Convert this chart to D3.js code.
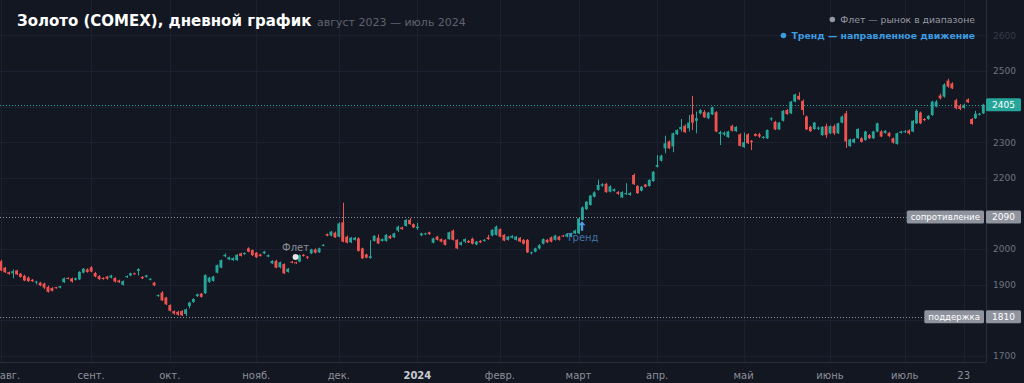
<!DOCTYPE html>
<html>
<head>
<meta charset="utf-8">
<script src="https://cdn.jsdelivr.net/npm/d3@7"></script>
<style>
  html, body { margin: 0; padding: 0; background: #131722; }
  svg { display: block; font-family: "DejaVu Sans", sans-serif; }
</style>
</head>
<body>
<div id="chart"></div>
<script>
// trading calendar (COMEX sessions) from 1 Aug 2023 to 30 Jul 2024
const firstDay = "2023-08-01";
const lastDay = "2024-07-30";
const holidays = ["2023-09-04", "2023-11-23", "2023-12-25", "2024-01-01", "2024-01-15",
    "2024-02-19", "2024-03-29", "2024-05-27", "2024-06-19", "2024-07-04"];

// daily OHLC
const opens = [1966,1948,1935,1932,1940,1931,1925,1920,1914,1906,1906,1903,1894,1891,1893,1892,1907,1919,1918,1914,
    1915,1934,1943,1949,1933,1924,1919,1923,1920,1919,1912,1900,1921,1926,1932,1939,1922,1922,1914,1906,
    1869,1878,1864,1843,1826,1824,1826,1818,1840,1852,1868,1875,1876,1908,1911,1934,1948,1980,1971,1969,
    1969,1988,1986,2002,1997,1990,1985,1988,1979,1960,1967,1949,1958,1936,1965,1963,1965,1984,1979,1988,
    1999,1991,2010,2042,2038,2046,2035,2075,2035,2019,2026,2030,2002,1985,1975,2023,2032,2023,2023,2037,
    2033,2052,2061,2065,2082,2070,2059,2039,2042,2047,2018,2035,2028,2026,2028,2052,2026,2012,2021,2023,
    2029,2013,2023,2023,2033,2038,2040,2056,2040,2026,2032,2026,2032,2026,2026,1989,1993,2002,2015,2026,
    2033,2026,2035,2038,2035,2035,2044,2044,2082,2112,2124,2147,2166,2178,2183,2161,2163,2160,2145,2154,
    2152,2208,2177,2164,2181,2177,2191,2231,2248,2283,2302,2288,2322,2336,2346,2339,2378,2360,2381,2385,
    2367,2378,2384,2323,2322,2314,2346,2331,2322,2286,2322,2304,2323,2322,2312,2311,2364,2357,2336,2360,
    2390,2381,2414,2430,2416,2372,2343,2337,2338,2320,2345,2325,2345,2325,2355,2381,2289,2299,2311,2311,
    2306,2320,2311,2330,2330,2326,2326,2311,2295,2326,2328,2333,2330,2353,2383,2365,2365,2376,2400,2431,
    2428,2473,2465,2418,2403,2396,2420,2365,2367,2378,2381];
const highs = [1970,1950,1937,1943,1942,1933,1928,1923,1916,1911,1908,1906,1898,1893,1894,1897,1920,1921,1920,1920,
    1938,1947,1946,1952,1936,1927,1921,1925,1928,1921,1914,1912,1926,1934,1934,1946,1924,1928,1918,1908,
    1873,1882,1866,1845,1828,1827,1829,1833,1852,1862,1875,1877,1929,1922,1925,1957,1971,1988,1979,1977,
    1986,1990,1991,2005,1999,1992,1987,1995,1985,1969,1970,1965,1960,1947,1967,1965,1985,1986,1980,2001,
    2002,2004,2014,2044,2051,2049,2075,2130,2038,2034,2034,2033,2004,1987,2025,2039,2041,2030,2042,2040,
    2046,2066,2063,2084,2087,2072,2074,2046,2046,2049,2032,2037,2030,2028,2049,2055,2028,2021,2030,2025,
    2032,2023,2025,2028,2040,2056,2066,2058,2042,2037,2039,2037,2034,2028,2028,1993,2004,2014,2030,2028,
    2035,2040,2037,2040,2044,2046,2054,2090,2120,2135,2152,2162,2195,2185,2186,2179,2170,2163,2162,2185,
    2160,2212,2180,2177,2183,2196,2219,2264,2265,2318,2305,2327,2336,2365,2350,2376,2430,2386,2393,2390,
    2385,2400,2387,2332,2330,2332,2349,2345,2325,2327,2325,2306,2325,2326,2317,2336,2370,2360,2357,2390,
    2393,2416,2436,2440,2420,2375,2346,2357,2344,2345,2352,2347,2350,2355,2375,2388,2310,2311,2339,2314,
    2332,2323,2332,2355,2334,2334,2329,2313,2327,2332,2334,2336,2362,2392,2386,2368,2376,2416,2418,2436,
    2465,2478,2468,2422,2407,2408,2423,2368,2388,2382,2408];
const lows = [1938,1933,1928,1918,1927,1920,1910,1908,1908,1901,1896,1888,1878,1881,1889,1890,1905,1915,1906,1912,
    1913,1932,1934,1935,1921,1913,1914,1914,1918,1906,1905,1898,1919,1924,1928,1926,1916,1920,1912,1896,
    1866,1854,1843,1825,1816,1813,1812,1812,1834,1849,1866,1864,1874,1905,1909,1932,1946,1977,1969,1967,
    1967,1979,1984,1991,1981,1975,1979,1986,1977,1958,1946,1946,1930,1934,1960,1958,1963,1979,1972,1986,
    1988,1989,2008,2036,2036,2031,2033,2019,2016,2017,2024,1993,1972,1974,1973,2021,2014,2021,2021,2028,
    2031,2048,2054,2063,2068,2059,2054,2036,2040,2040,2016,2024,2019,2010,2026,2024,2000,2010,2017,2017,
    2013,2011,2017,2021,2026,2036,2038,2033,2022,2024,2030,2024,2019,2013,1989,1985,1991,1999,2013,2017,
    2019,2024,2024,2034,2033,2033,2042,2042,2080,2110,2122,2145,2164,2175,2158,2159,2161,2152,2143,2152,
    2150,2180,2155,2162,2173,2175,2189,2229,2246,2269,2281,2272,2320,2330,2326,2330,2334,2325,2378,2368,
    2365,2376,2328,2292,2318,2312,2330,2329,2288,2284,2295,2278,2316,2312,2310,2309,2360,2334,2334,2358,
    2377,2379,2412,2418,2376,2334,2329,2335,2334,2318,2312,2323,2320,2323,2353,2284,2287,2297,2309,2299,
    2304,2309,2309,2328,2314,2324,2314,2296,2293,2324,2326,2321,2328,2351,2351,2359,2363,2374,2398,2420,
    2425,2453,2449,2392,2390,2394,2410,2349,2365,2375,2379];
const closes = [1940,1935,1930,1938,1929,1922,1912,1910,1910,1909,1898,1892,1880,1883,1891,1896,1918,1917,1909,1918,
    1936,1945,1936,1937,1923,1916,1916,1917,1926,1909,1907,1910,1924,1932,1930,1944,1918,1926,1917,1898,
    1871,1856,1845,1827,1819,1816,1814,1831,1850,1860,1873,1866,1927,1920,1923,1955,1969,1984,1977,1975,
    1984,1981,1989,1993,1983,1977,1981,1993,1983,1967,1948,1963,1932,1945,1962,1960,1983,1981,1977,1999,
    1990,2002,2012,2038,2049,2033,2072,2021,2018,2032,2032,1995,1974,1976,1980,2037,2016,2028,2040,2030,
    2044,2063,2056,2082,2070,2061,2063,2044,2044,2042,2030,2026,2021,2012,2047,2026,2002,2019,2028,2019,
    2015,2021,2019,2026,2028,2054,2063,2035,2024,2035,2037,2035,2021,2015,1991,1991,2002,2011,2028,2019,
    2021,2038,2026,2036,2042,2044,2052,2086,2117,2133,2150,2159,2180,2182,2160,2176,2168,2155,2160,2157,
    2157,2182,2157,2175,2175,2194,2217,2236,2262,2297,2283,2325,2334,2343,2328,2355,2355,2367,2390,2370,
    2383,2398,2330,2328,2327,2330,2332,2343,2290,2300,2297,2300,2318,2316,2315,2334,2367,2336,2355,2388,
    2379,2414,2434,2420,2390,2336,2331,2355,2341,2343,2320,2345,2325,2353,2372,2302,2308,2309,2337,2301,
    2330,2311,2330,2353,2316,2332,2317,2299,2325,2330,2331,2325,2360,2388,2353,2362,2374,2414,2414,2423,
    2462,2456,2451,2395,2393,2405,2412,2351,2380,2380,2405];

// price axis and the three levels
const priceTicks = [1700, 1800, 1900, 2000, 2100, 2200, 2300, 2400, 2500, 2600];
const lastPrice = 2405;
const resistance = 2090;
const support = 1810;

// time axis labels, keyed by session date
const timeLabels = [
    ["2023-08-01", "авг."], ["2023-09-01", "сент."], ["2023-10-02", "окт."], ["2023-11-01", "нояб."],
    ["2023-12-01", "дек."], ["2024-01-02", "2024"], ["2024-02-01", "февр."], ["2024-03-01", "март"],
    ["2024-04-01", "апр."], ["2024-05-01", "май"], ["2024-06-03", "июнь"], ["2024-07-01", "июль"],
    ["2024-07-23", "23"]
];

// annotations
const flatMark = { date: "2023-11-15", price: 1978, text: "Флет" };
const trendMark = { date: "2024-03-01", price: 2064, text: "Тренд" };

const W = 1024, H = 383;
const plotRight = 986, plotBottom = 362;
const GREEN = "#26a69a", RED = "#ef5350";
const LEVEL = "#8f939e";

// build the session list
const fmt = d3.timeFormat("%Y-%m-%d");
const sessions = [];
for (let d = new Date(firstDay + "T12:00:00"); fmt(d) <= lastDay; d.setDate(d.getDate() + 1)) {
    const wd = d.getDay();
    const key = fmt(d);
    if (wd === 0 || wd === 6 || holidays.includes(key)) continue;
    sessions.push(key);
}
const bars = sessions.map((date, i) => ({
    date: date, o: opens[i], h: highs[i], l: lows[i], c: closes[i]
}));

const step = 3.93;
const x = d3.scaleBand()
    .domain(sessions)
    .range([0.8 - step / 2, 0.8 - step / 2 + step * sessions.length])
    .paddingInner(0.27)
    .paddingOuter(0.135);
const cx = d => x(d) + x.bandwidth() / 2;

const y = d3.scaleLinear()
    .domain([1700, 2600])
    .range([356.0, 35.3]);

const svg = d3.select("#chart").append("svg")
    .attr("width", W)
    .attr("height", H);

svg.append("rect").attr("width", W).attr("height", H).attr("fill", "#131722");

// grid
const grid = svg.append("g");
grid.selectAll(".vg")
    .data(timeLabels)
    .enter().append("line")
    .attr("x1", d => Math.round(cx(d[0])) + 0.5)
    .attr("x2", d => Math.round(cx(d[0])) + 0.5)
    .attr("y1", 0).attr("y2", plotBottom)
    .attr("stroke", "#1c2030");
grid.selectAll(".hg")
    .data(priceTicks)
    .enter().append("line")
    .attr("x1", 0).attr("x2", plotRight)
    .attr("y1", d => Math.round(y(d)) + 0.5)
    .attr("y2", d => Math.round(y(d)) + 0.5)
    .attr("stroke", "#1c2030");

// plot borders
svg.append("line")
    .attr("x1", plotRight + 0.5).attr("x2", plotRight + 0.5)
    .attr("y1", 0).attr("y2", plotBottom)
    .attr("stroke", "#2a2e39");
svg.append("line")
    .attr("x1", 0).attr("x2", plotRight)
    .attr("y1", plotBottom + 0.5).attr("y2", plotBottom + 0.5)
    .attr("stroke", "#2a2e39");

// last price line
svg.append("line")
    .attr("x1", 0).attr("x2", plotRight)
    .attr("y1", Math.round(y(lastPrice)) + 0.5).attr("y2", Math.round(y(lastPrice)) + 0.5)
    .attr("stroke", GREEN).attr("stroke-dasharray", "1,2");

// candles
const candles = svg.append("g");
candles.selectAll(".wick")
    .data(bars)
    .enter().append("line")
    .attr("x1", d => Math.round(cx(d.date)) + 0.5)
    .attr("x2", d => Math.round(cx(d.date)) + 0.5)
    .attr("y1", d => y(d.h))
    .attr("y2", d => y(d.l))
    .attr("stroke", d => d.c >= d.o ? GREEN : RED)
    .attr("stroke-width", 1);
candles.selectAll(".body")
    .data(bars)
    .enter().append("rect")
    .attr("x", d => x(d.date))
    .attr("width", x.bandwidth())
    .attr("y", d => y(Math.max(d.o, d.c)))
    .attr("height", d => Math.max(1, Math.abs(y(d.o) - y(d.c))))
    .attr("fill", d => d.c >= d.o ? GREEN : RED);

// annotations
svg.append("text")
    .attr("x", cx(flatMark.date)).attr("y", y(flatMark.price) - 6)
    .attr("text-anchor", "middle")
    .attr("fill", "#a4a7b0").attr("fill-opacity", 0.85)
    .style("font-size", "10px")
    .text(flatMark.text);
svg.append("circle")
    .attr("cx", cx(flatMark.date)).attr("cy", y(flatMark.price))
    .attr("r", 3)
    .attr("fill", "#e6e6e6");

svg.append("text")
    .attr("x", cx(trendMark.date) + 4).attr("y", y(trendMark.price) + 14.5)
    .attr("text-anchor", "middle")
    .attr("fill", "#4a86c0").attr("fill-opacity", 0.85)
    .style("font-size", "10px")
    .text(trendMark.text);
svg.append("path")
    .attr("transform", `translate(${cx(trendMark.date) + 3.5},${y(trendMark.price)})`)
    .attr("d", "M0,-5 L3.5,-1 L1.2,-1 L1.2,4.5 L-1.2,4.5 L-1.2,-1 L-3.5,-1 Z")
    .attr("fill", "#4a9fe0");

// right price axis (labels under the price tags are hidden by the tags)
const covered = [2400, 2100, 1800];
const yAxis = d3.axisRight(y)
    .tickValues(priceTicks.filter(v => !covered.includes(v)))
    .tickFormat(d3.format("d"))
    .tickSize(0).tickPadding(7);
const yg = svg.append("g")
    .attr("transform", `translate(${plotRight},0)`)
    .call(yAxis);
yg.select(".domain").remove();
yg.selectAll("text")
    .attr("fill", "#6f7380")
    .style("font-size", "9px")
    .style("font-family", "DejaVu Sans, sans-serif");
yg.selectAll(".tick").filter(d => d === 2600).select("text").attr("fill", "#353a47");

// price tags
function tag(value, fill, textFill) {
    const yy = y(value);
    svg.append("rect")
        .attr("x", plotRight).attr("y", yy - 6.5)
        .attr("width", 35).attr("height", 13).attr("rx", 1.5)
        .attr("fill", fill);
    svg.append("text")
        .attr("x", plotRight + 17.5).attr("y", yy + 3.2)
        .attr("text-anchor", "middle")
        .attr("fill", textFill)
        .style("font-size", "9px")
        .text(value);
}
// level line running up to a label box at the right edge
function level(value, label) {
    const yy = y(value);
    const right = plotRight - 2;
    const t = svg.append("text")
        .attr("x", right - 4).attr("y", yy + 3.2)
        .attr("text-anchor", "end")
        .attr("fill", "#ffffff")
        .style("font-size", "8.6px")
        .text(label);
    const w = t.node().getComputedTextLength();
    const left = right - w - 8;
    svg.insert("rect", () => t.node())
        .attr("x", left).attr("y", yy - 6.5)
        .attr("width", w + 8).attr("height", 13).attr("rx", 1.5)
        .attr("fill", LEVEL);
    svg.insert("line", () => t.node())
        .attr("x1", 0).attr("x2", left)
        .attr("y1", Math.round(yy) + 0.5).attr("y2", Math.round(yy) + 0.5)
        .attr("stroke", LEVEL).attr("stroke-dasharray", "1,2");
    tag(value, LEVEL, "#ffffff");
}
tag(lastPrice, GREEN, "#ffffff");
level(resistance, "сопротивление");
level(support, "поддержка");

// time axis
const xAxis = d3.axisBottom(x)
    .tickValues(timeLabels.map(d => d[0]))
    .tickFormat(d => timeLabels.find(t => t[0] === d)[1])
    .tickSize(0)
    .tickPadding(10);
const xg = svg.append("g")
    .attr("transform", `translate(0,${plotBottom})`)
    .call(xAxis);
xg.select(".domain").remove();
xg.selectAll("text")
    .attr("fill", "#8c8f99")
    .style("font-size", "10px")
    .style("font-family", "DejaVu Sans, sans-serif");
xg.selectAll(".tick").filter(d => d === "2024-01-02").select("text")
    .attr("fill", "#c9cbd2").style("font-weight", "bold");
xg.selectAll(".tick").filter(d => d === "2023-08-01").select("text")
    .attr("text-anchor", "start").attr("x", -1);

// title
svg.append("text")
    .attr("x", 17).attr("y", 26)
    .attr("fill", "#ffffff")
    .style("font-size", "15px")
    .style("font-weight", "bold")
    .text("Золото (COMEX), дневной график");
svg.append("text")
    .attr("x", 317).attr("y", 26)
    .attr("fill", "#5f6370")
    .style("font-size", "11px")
    .text("август 2023 — июль 2024");

// legend
const legend = [
    { label: "Флет — рынок в диапазоне", color: "#9598a1", bold: false, y: 19 },
    { label: "Тренд — направленное движение", color: "#3d9be0", bold: true, y: 35 }
];
legend.forEach(l => {
    const t = svg.append("text")
        .attr("x", 975).attr("y", l.y + 3.5)
        .attr("text-anchor", "end")
        .attr("fill", l.color)
        .style("font-size", "9.3px")
        .style("font-weight", l.bold ? "bold" : "normal")
        .text(l.label);
    const w = t.node().getComputedTextLength();
    svg.append("circle")
        .attr("cx", 975 - w - 8).attr("cy", l.y + 0.5)
        .attr("r", 2.8)
        .attr("fill", l.color);
});
</script>
</body>
</html>
